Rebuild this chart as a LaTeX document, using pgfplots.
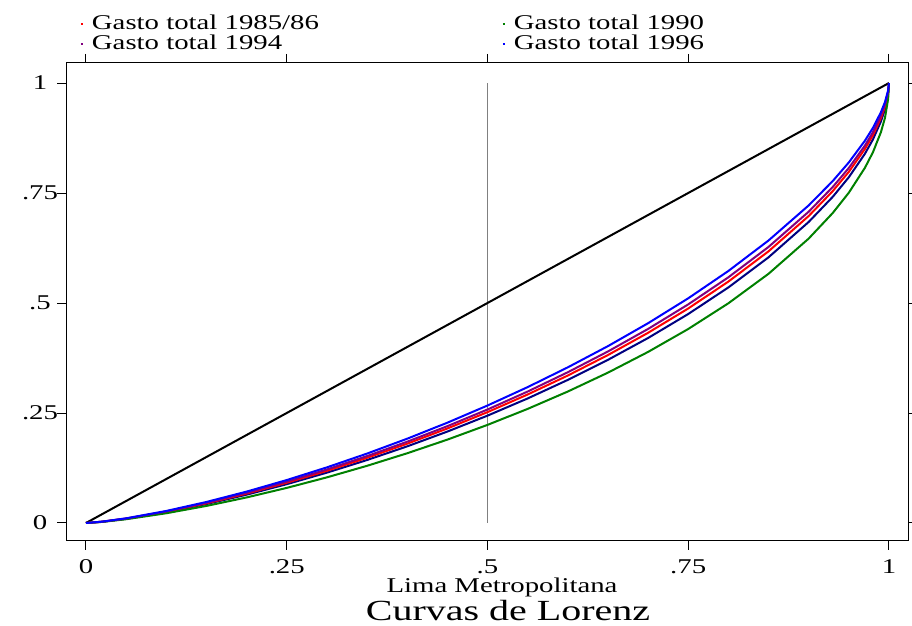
\documentclass[border=0pt]{standalone}
\usepackage{fontspec}
\setmainfont{Liberation Serif}[FakeStretch=1.37]
\usepackage{pgfplots}
\pgfplotsset{compat=1.18}

\definecolor{lzred}{RGB}{255,0,0}
\definecolor{lzgreen}{RGB}{0,128,0}
\definecolor{lzpurple}{RGB}{128,0,128}
\definecolor{lzblue}{RGB}{0,0,255}
\definecolor{lznavy}{RGB}{0,0,128}

\newcommand{\lblfont}{\fontsize{10.5}{12}\selectfont}

\begin{document}
\begin{tikzpicture}
\begin{axis}[
  at={(33pt,42.5pt)}, anchor=south west,
  scale only axis, width=421pt, height=239pt,
  xmin=-0.0249, xmax=1.0237, ymin=-0.0409, ymax=1.0455,
  xtick={0,0.25,0.5,0.75,1}, xticklabels={0,.25,.5,.75,1},
  ytick={0,0.25,0.5,0.75,1}, yticklabels={0,.25,.5,.75,1},
  xtick pos=both, ytick pos=both,
  xticklabel pos=lower, yticklabel pos=left,
  tick align=outside, major tick length=4.5pt,
  axis line style={line width=0.5pt},
  tick style={line width=0.5pt, black},
  ticklabel style={font=\lblfont},
  xticklabel style={anchor=base, inner sep=0pt, yshift=-12pt},
  yticklabel style={anchor=center, xshift=-8.5pt},
  xlabel={Lima Metropolitana},
  xlabel style={at={(axis description cs:0.5178,0)}, anchor=base,
                yshift=-25.6pt, font=\lblfont, inner sep=0pt},
  title={Curvas de Lorenz},
  title style={at={(axis description cs:0.525,0)}, anchor=base,
               yshift=-46pt, font=\fontsize{14.6}{16}\selectfont, inner sep=0pt},
  legend columns=2,
  legend cell align=left,
  legend image code/.code={\draw[#1, line width=1pt] (0pt,0pt) -- (1pt,0pt);},
  legend style={draw=none, fill=none, inner sep=0pt, outer sep=0pt,
    at={(0.0166,1.1020)}, anchor=north west, font=\lblfont,
    row sep=0pt,
    nodes={inner sep=0pt, text height=7.5pt, text depth=2.5pt},
    /tikz/every odd column/.style={column sep=4pt},
    /tikz/column 2/.style={column sep=91.5pt}},
]

% reference lines: 50th percentile and line of equality
\addplot[gray, line width=0.6pt, forget plot] coordinates {(0.5,0) (0.5,1)};
\addplot[black, line width=1pt, forget plot] coordinates {(0,0) (1,1)};

\addplot[lznavy, line width=1pt, forget plot] coordinates {
(0,0) (0.02,0.00275) (0.05,0.00953) (0.1,0.02460) (0.15,0.04305) (0.2,0.06432)
(0.25,0.08818) (0.3,0.11445) (0.35,0.14311) (0.4,0.17417) (0.45,0.20777)
(0.5,0.24398) (0.55,0.28304) (0.6,0.32520) (0.65,0.37079) (0.7,0.42047)
(0.75,0.47495) (0.8,0.53543) (0.85,0.60386) (0.9,0.68418) (0.93,0.74138)
(0.95,0.78585) (0.97,0.83910) (0.98,0.87159) (0.99,0.91261) (0.995,0.94031)
(0.999,0.97524) (1,1)};

\addplot[lzred, line width=1pt] coordinates {
(0,0) (0.02,0.00286) (0.05,0.00991) (0.1,0.02556) (0.15,0.04469) (0.2,0.06674)
(0.25,0.09144) (0.3,0.11859) (0.35,0.14818) (0.4,0.18023) (0.45,0.21478)
(0.5,0.25198) (0.55,0.29202) (0.6,0.33516) (0.65,0.38171) (0.7,0.43229)
(0.75,0.48755) (0.8,0.54867) (0.85,0.61748) (0.9,0.69768) (0.93,0.75437)
(0.95,0.79811) (0.97,0.85001) (0.98,0.88138) (0.99,0.92053) (0.995,0.94654)
(0.999,0.97861) (1,1)};
\addlegendentry{Gasto total 1985/86}

\addplot[lzgreen, line width=1pt] coordinates {
(0,0) (0.02,0.00246) (0.05,0.00857) (0.1,0.02214) (0.15,0.03881) (0.2,0.05809)
(0.25,0.07977) (0.3,0.10372) (0.35,0.12995) (0.4,0.15850) (0.45,0.18945)
(0.5,0.22296) (0.55,0.25932) (0.6,0.29877) (0.65,0.34171) (0.7,0.38882)
(0.75,0.44094) (0.8,0.49936) (0.85,0.56640) (0.9,0.64641) (0.93,0.70463)
(0.95,0.75068) (0.97,0.80711) (0.98,0.84245) (0.99,0.88843) (0.995,0.92071)
(0.999,0.96394) (1,1)};
\addlegendentry{Gasto total 1990}

\addplot[lzpurple, line width=1pt] coordinates {
(0,0) (0.02,0.00294) (0.05,0.01019) (0.1,0.02628) (0.15,0.04594) (0.2,0.06857)
(0.25,0.09389) (0.3,0.12171) (0.35,0.15200) (0.4,0.18475) (0.45,0.22002)
(0.5,0.25796) (0.55,0.29874) (0.6,0.34260) (0.65,0.38983) (0.7,0.44104)
(0.75,0.49686) (0.8,0.55842) (0.85,0.62745) (0.9,0.70749) (0.93,0.76373)
(0.95,0.80688) (0.97,0.85775) (0.98,0.88827) (0.99,0.92603) (0.995,0.95082)
(0.999,0.98085) (1,1)};
\addlegendentry{Gasto total 1994}

\addplot[lzblue, line width=1pt] coordinates {
(0,0) (0.02,0.00306) (0.05,0.01063) (0.1,0.02738) (0.15,0.04783) (0.2,0.07134)
(0.25,0.09762) (0.3,0.12644) (0.35,0.15777) (0.4,0.19158) (0.45,0.22795)
(0.5,0.26698) (0.55,0.30882) (0.6,0.35373) (0.65,0.40196) (0.7,0.45407)
(0.75,0.51068) (0.8,0.57281) (0.85,0.64209) (0.9,0.72178) (0.93,0.77725)
(0.95,0.81948) (0.97,0.86875) (0.98,0.89797) (0.99,0.93366) (0.995,0.95667)
(0.999,0.98382) (1,1)};
\addlegendentry{Gasto total 1996}

\end{axis}
\pgfresetboundingbox
\path[use as bounding box] (0,0) rectangle (456pt,313pt);
\end{tikzpicture}
\end{document}
